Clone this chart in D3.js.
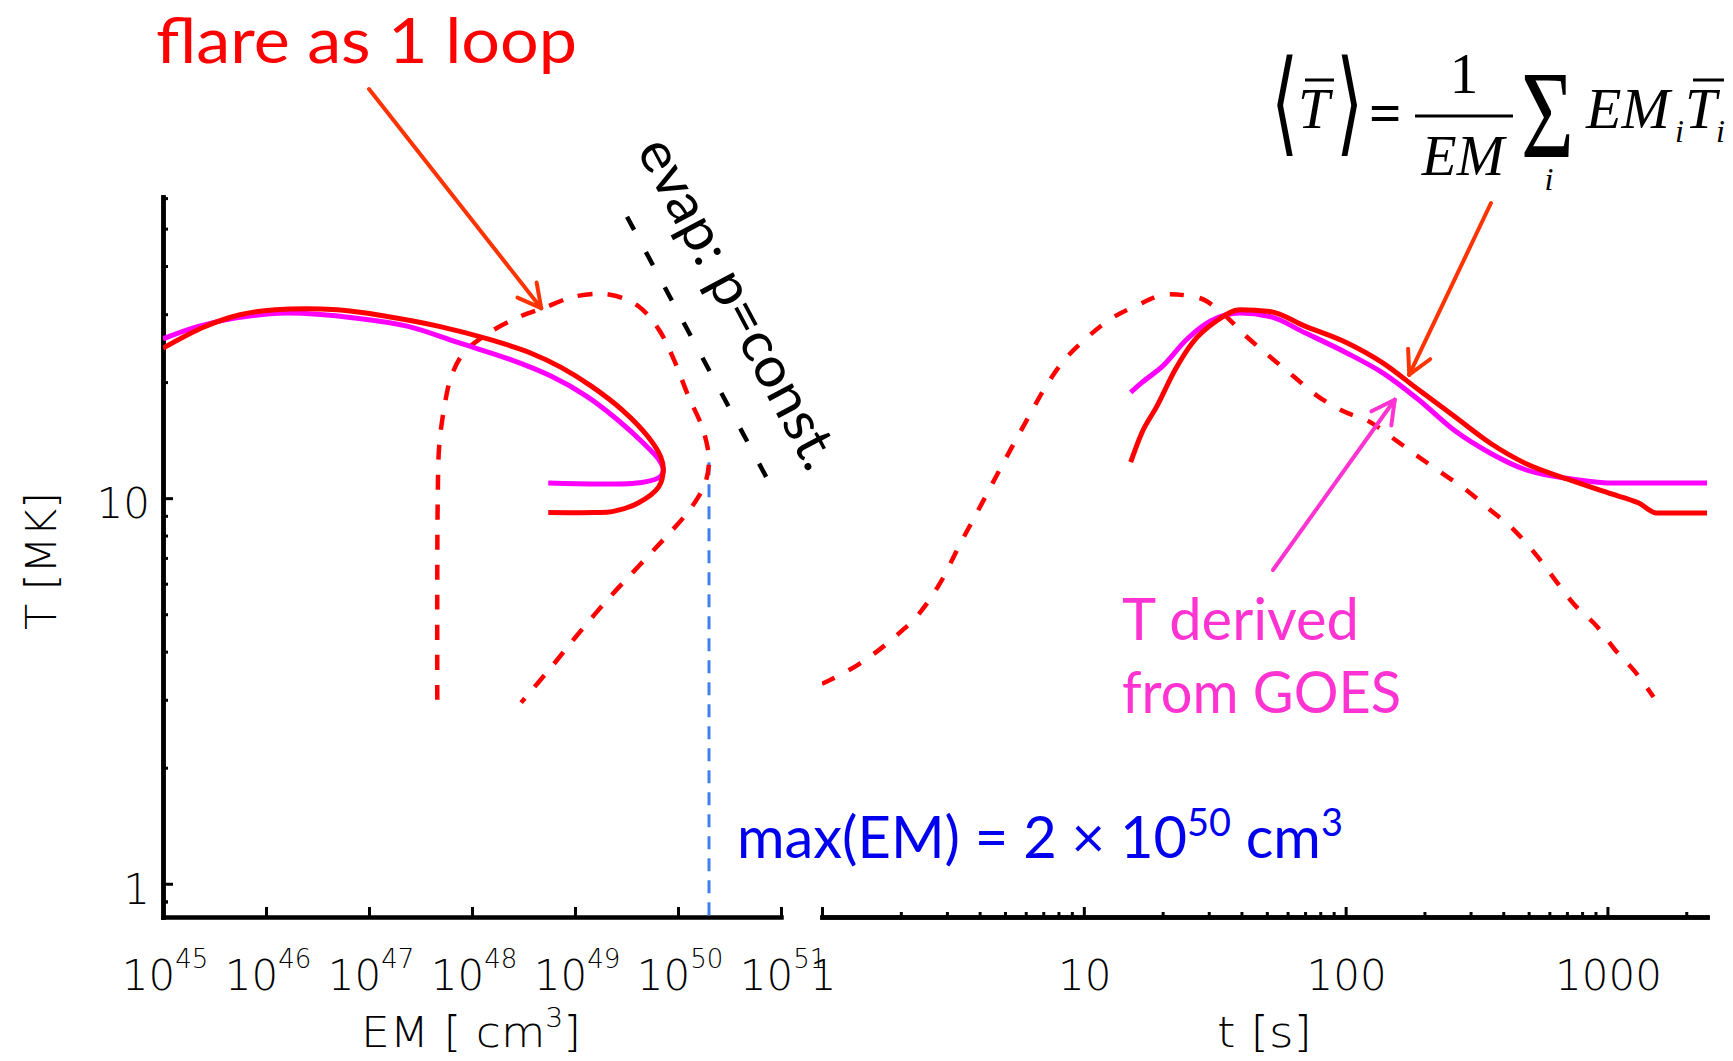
<!DOCTYPE html>
<html>
<head>
<meta charset="utf-8">
<script src="https://cdn.jsdelivr.net/npm/d3@7"></script>
<style>
  html, body { margin: 0; padding: 0; background: #fff; }
  svg { display: block; }
</style>
</head>
<body>
<svg id="chart" width="1733" height="1061"></svg>
<script>
// ---------- tick values ----------
const emDecades = [45, 46, 47, 48, 49, 50, 51];
const timeMajor = [1, 10, 100, 1000];
const tempMajor = [1, 10];

// ---------- left panel: temperature vs emission measure ----------
// single-loop model (dashed)
const loopEM = [4.6e47, 4.6e47, 4.65e47, 4.8e47, 5.4e47, 6.3e47, 8.3e47, 1.48e48, 2.95e48, 4.9e48,
                1.02e49, 2.2e49, 4.1e49, 6.5e49, 9.1e49, 1.26e50, 1.7e50, 1.93e50, 2.0e50, 1.85e50,
                1.55e50, 1.15e50, 7.2e49, 4.1e49, 2.05e49, 1.02e49, 5.9e48, 3.0e48];
const loopT  = [3.0, 6.0, 10.0, 13.6, 17.3, 20.7, 23.8, 26.9, 29.6, 31.1,
                33.4, 33.7, 31.5, 27.4, 22.9, 18.4, 15.4, 13.6, 12.4, 11.0,
                10.0, 8.96, 7.8, 6.64, 5.44, 4.37, 3.65, 2.95];
// multi-loop mean temperature (solid red)
const meanEM = [1e45, 2.5e45, 5.6e45, 1.23e46, 4.9e46, 1.5e47, 4.8e47, 1.48e48, 3.7e48, 7.4e48,
                1.45e49, 2.9e49, 5.1e49, 6.8e49, 7.2e49, 6.5e49, 4.1e49, 2.3e49, 1.5e49, 5.5e48];
const meanT  = [24.5, 27.8, 29.9, 30.8, 30.8, 29.6, 27.9, 25.8, 23.8, 21.8,
                19.5, 16.9, 14.45, 12.8, 11.85, 10.7, 9.72, 9.23, 9.18, 9.18];
// GOES-derived temperature (magenta)
const goesEM = [1e45, 2.2e45, 5e45, 1.55e46, 7.6e46, 2.4e47, 7.4e47, 2.34e48, 5.9e48, 1.29e49,
                2.57e49, 4.6e49, 6.5e49, 7.2e49, 6.8e49, 4.6e49, 5.5e48];
const goesT  = [25.9, 27.9, 29.3, 30.2, 29.3, 27.9, 25.3, 22.9, 20.7, 18.4,
                16.0, 13.9, 12.6, 11.85, 11.4, 11.0, 10.94];
// evaporation track, p = const
const evapEM = [3.2e49, 8.4e50];
const evapT  = [53.7, 10.5];
// peak emission measure
const maxEM = 2e50;
const maxEMT = [12.4, 0.82];

// ---------- right panel: temperature vs time ----------
const loopTime = [1.0, 1.39, 1.90, 2.35, 2.82, 3.38, 3.96, 4.63, 5.42, 6.17, 7.03, 8.24, 10.1, 12.5,
                  15.8, 21.1, 27.4, 33.8, 41.7, 51.3, 63.2, 78.1, 96.3, 125, 154, 190, 234, 289,
                  356, 439, 541, 631, 741, 914, 1070, 1260, 1500];
const loopTempT = [3.30, 3.72, 4.37, 5.02, 6.01, 7.64, 9.33, 11.4, 13.9, 16.3, 19.1, 22.4, 25.8, 29.0,
                   31.5, 33.8, 33.1, 30.2, 26.3, 23.3, 20.7, 18.4, 16.9, 15.7, 14.2, 12.8, 11.6, 10.5,
                   9.33, 8.28, 7.05, 6.14, 5.33, 4.64, 4.04, 3.58, 3.05];
const meanTime = [15.1, 16.6, 19.0, 22.3, 26.0, 32.1, 39.5, 51.3, 70.3, 101, 139, 190, 260, 356,
                  487, 705, 1014, 1318, 1542, 2400];
const meanTempT = [12.4, 14.7, 17.3, 21.5, 25.3, 28.8, 30.8, 30.5, 27.9, 25.3, 22.4, 19.1, 16.3, 13.9,
                   12.3, 11.2, 10.3, 9.71, 9.15, 9.15];
const goesTime = [15.1, 16.6, 20.0, 24.7, 30.5, 39.5, 51.3, 70.3, 101, 139, 190, 260, 356, 487,
                  741, 1070, 2400];
const goesTempT = [18.8, 19.9, 22.0, 25.8, 28.8, 30.2, 29.6, 26.8, 23.8, 21.1, 18.0, 15.0, 13.1, 11.85,
                   11.2, 10.94, 10.94];

// ---------- styles ----------
const AXIS_FONT = "'DejaVu Sans', 'Liberation Sans', sans-serif";
const NOTE_FONT = "Lato, 'Open Sans', sans-serif";
const MATH_FONT = "'Liberation Serif', 'DejaVu Serif', serif";
const RED = "#ff0000", MAGENTA = "#ff00ff", ARROW_RED = "#ff3300", PINK = "#ff33d2";

const svg = d3.select("#chart");

// ---------- scales ----------
const xEM = d3.scaleLog().domain([1e45, 1e51]).range([163, 781]);
const xTime = d3.scaleLog().domain([1, 2400]).range([822, 1707]);
const yT = d3.scaleLog().domain([0.82, 60.4]).range([917, 197]);

// clip regions for both panels
const defs = svg.append("defs");
defs.append("clipPath").attr("id", "clipL").append("rect")
  .attr("x", xEM.range()[0]).attr("y", yT.range()[1])
  .attr("width", xEM.range()[1] - xEM.range()[0]).attr("height", yT.range()[0] - yT.range()[1]);
defs.append("clipPath").attr("id", "clipR").append("rect")
  .attr("x", xTime.range()[0]).attr("y", yT.range()[1])
  .attr("width", xTime.range()[1] - xTime.range()[0]).attr("height", yT.range()[0] - yT.range()[1]);

const zip = (a, b) => a.map((v, i) => [v, b[i]]);
const lineEM = d3.line().x(d => xEM(d[0])).y(d => yT(d[1])).curve(d3.curveCatmullRom.alpha(0.5));
const lineTime = d3.line().x(d => xTime(d[0])).y(d => yT(d[1])).curve(d3.curveMonotoneX);
const lineStraight = d3.line().x(d => xEM(d[0])).y(d => yT(d[1]));

// ---------- axes ----------
function styleAxis(g, width) {
  g.select(".domain").attr("stroke", "#000").attr("stroke-width", width).attr("stroke-linecap", "square");
  g.selectAll(".tick line").attr("stroke", "#000").attr("stroke-width", 3);
  g.selectAll(".tick text").remove();
}
const minorsBetween = (lo, hi) => {
  const out = [];
  for (let e = Math.floor(Math.log10(lo)); e <= Math.ceil(Math.log10(hi)); e++)
    for (let m = 2; m <= 9; m++) { const v = m * Math.pow(10, e); if (v > lo && v < hi) out.push(v); }
  return out;
};

// y axis (left panel)
const yMinor = minorsBetween(0.82, 60.4).concat([0.9]).filter(v => v !== 1 && v !== 10);
svg.append("g").attr("transform", `translate(${xEM.range()[0]},0)`)
  .call(d3.axisLeft(yT).tickValues(yMinor).tickSize(-5).tickSizeOuter(0))
  .call(g => styleAxis(g, 4.5));
svg.append("g").attr("transform", `translate(${xEM.range()[0]},0)`)
  .call(d3.axisLeft(yT).tickValues(tempMajor).tickSize(-10).tickSizeOuter(0))
  .call(g => styleAxis(g, 4.5));

// x axis, emission measure
svg.append("g").attr("transform", `translate(0,${yT.range()[0]})`)
  .call(d3.axisBottom(xEM).tickValues(emDecades.map(d => Math.pow(10, d))).tickSize(-10).tickSizeOuter(0))
  .call(g => styleAxis(g, 4.5));

// x axis, time
svg.append("g").attr("transform", `translate(0,${yT.range()[0]})`)
  .call(d3.axisBottom(xTime).tickValues(minorsBetween(1, 2400)).tickSize(-5).tickSizeOuter(0))
  .call(g => styleAxis(g, 4.5));
svg.append("g").attr("transform", `translate(0,${yT.range()[0]})`)
  .call(d3.axisBottom(xTime).tickValues(timeMajor).tickSize(-10).tickSizeOuter(0))
  .call(g => styleAxis(g, 4.5));

// tick labels
const labels = svg.append("g").attr("font-family", AXIS_FONT).attr("font-weight", 200).attr("fill", "#000");
labels.selectAll("text.ylab").data(tempMajor).join("text").attr("class", "ylab")
  .attr("x", 150).attr("y", d => yT(d) + 20).attr("text-anchor", "end").attr("font-size", 42)
  .text(d => d);
labels.selectAll("text.emlab").data(emDecades).join("text").attr("class", "emlab")
  .attr("x", d => xEM(Math.pow(10, d)) + 2).attr("y", 990).attr("text-anchor", "middle").attr("font-size", 42)
  .each(function (d) {
    const t = d3.select(this);
    t.append("tspan").text("10");
    t.append("tspan").attr("dy", -22).attr("font-size", 26).text(d);
  });
labels.selectAll("text.tlab").data(timeMajor).join("text").attr("class", "tlab")
  .attr("x", d => xTime(d) + 1).attr("y", 990).attr("text-anchor", "middle").attr("font-size", 42)
  .text(d => d);

// axis titles
labels.append("text").attr("x", 361).attr("y", 1047).attr("font-size", 42)
  .attr("textLength", 220).attr("lengthAdjust", "spacingAndGlyphs")
  .call(t => {
    t.append("tspan").text("EM [ cm");
    t.append("tspan").attr("dy", -20).attr("font-size", 26).text("3");
    t.append("tspan").attr("dy", 20).text("]");
  });
labels.append("text").attr("x", 1217).attr("y", 1047).attr("font-size", 42)
  .attr("textLength", 95).attr("lengthAdjust", "spacingAndGlyphs").text("t [s]");
labels.append("text").attr("transform", "translate(56,630) rotate(-90)")
  .attr("font-size", 42).attr("textLength", 138).attr("lengthAdjust", "spacingAndGlyphs").text("T [MK]");

// ---------- curves, left panel ----------
const left = svg.append("g").attr("clip-path", "url(#clipL)").attr("fill", "none");
left.append("path").attr("d", lineStraight([[maxEM, maxEMT[0]], [maxEM, maxEMT[1]]]))
  .attr("stroke", "#3f80ee").attr("stroke-width", 3).attr("stroke-dasharray", "13,9");
left.append("path").attr("d", lineStraight(zip(evapEM, evapT)))
  .attr("stroke", "#000").attr("stroke-width", 4.5).attr("stroke-dasharray", "15,25");
left.append("path").attr("d", lineEM(zip(loopEM, loopT)))
  .attr("stroke", RED).attr("stroke-width", 4.5).attr("stroke-dasharray", "15,15");
left.append("path").attr("d", lineEM(zip(goesEM, goesT)))
  .attr("stroke", MAGENTA).attr("stroke-width", 5);
left.append("path").attr("d", lineEM(zip(meanEM, meanT)))
  .attr("stroke", RED).attr("stroke-width", 5);

// ---------- curves, right panel ----------
const right = svg.append("g").attr("clip-path", "url(#clipR)").attr("fill", "none");
right.append("path").attr("d", lineTime(zip(loopTime, loopTempT)))
  .attr("stroke", RED).attr("stroke-width", 4.5).attr("stroke-dasharray", "14,16");
right.append("path").attr("d", lineTime(zip(goesTime, goesTempT)))
  .attr("stroke", MAGENTA).attr("stroke-width", 5);
right.append("path").attr("d", lineTime(zip(meanTime, meanTempT)))
  .attr("stroke", RED).attr("stroke-width", 5);

// ---------- annotations ----------
function arrow(x1, y1, x2, y2, color, width) {
  const g = svg.append("g").attr("stroke", color).attr("stroke-width", width)
    .attr("fill", "none").attr("stroke-linecap", "round");
  g.append("line").attr("x1", x1).attr("y1", y1).attr("x2", x2).attr("y2", y2);
  const a = Math.atan2(y1 - y2, x1 - x2), L = 26, s = 28 * Math.PI / 180;
  [a - s, a + s].forEach(b =>
    g.append("line").attr("x1", x2).attr("y1", y2)
      .attr("x2", x2 + L * Math.cos(b)).attr("y2", y2 + L * Math.sin(b)));
}
arrow(369, 89, xEM(4.7e48), yT(31.1), ARROW_RED, 4);
arrow(1491, 203, xTime(175), yT(20.9), ARROW_RED, 4);
arrow(1273, 570, xTime(154), yT(18.0), PINK, 4);

const notes = svg.append("g").attr("font-family", NOTE_FONT);
function fitWidth(sel, w) {
  sel.attr("textLength", w).attr("lengthAdjust", "spacingAndGlyphs");
}
notes.append("text").attr("x", 156).attr("y", 63).attr("font-size", 62).attr("fill", RED)
  .text("flare as 1 loop").call(fitWidth, 421);
notes.append("text").attr("transform", "translate(636,150) rotate(62)").attr("font-size", 56)
  .attr("fill", "#000").text("evap: p=const.").call(fitWidth, 367);
notes.append("text").attr("x", 1122).attr("y", 640).attr("font-size", 58).attr("fill", PINK)
  .text("T derived").call(fitWidth, 237);
notes.append("text").attr("x", 1122).attr("y", 713).attr("font-size", 58).attr("fill", PINK)
  .text("from GOES").call(fitWidth, 279);

// peak emission measure label, scaled horizontally to its span
const maxLabel = notes.append("text").attr("x", 0).attr("y", 0).attr("font-size", 58).attr("fill", "#0000ee");
maxLabel.append("tspan").text("max(EM) = 2 × 10");
maxLabel.append("tspan").attr("dy", -22).attr("font-size", 38).text("50");
maxLabel.append("tspan").attr("dy", 22).text(" cm");
maxLabel.append("tspan").attr("dy", -22).attr("font-size", 38).text("3");
{
  const bb = maxLabel.node().getBBox();
  const k = 606 / bb.width;
  maxLabel.attr("transform", `translate(${737 - bb.x * k},858) scale(${k},1)`);
}

// ---------- formula ----------
const f = svg.append("g").attr("font-family", MATH_FONT).attr("fill", "#000");
f.append("text").attr("transform", "translate(1271,141) scale(1,1.63)").attr("font-size", 70)
  .attr("font-family", "'DejaVu Sans', serif").attr("font-weight", 200).text("⟨");
f.append("text").attr("x", 1298).attr("y", 128).attr("font-size", 57).attr("font-style", "italic").text("T");
f.append("text").attr("transform", "translate(1336,141) scale(1,1.63)").attr("font-size", 70)
  .attr("font-family", "'DejaVu Sans', serif").attr("font-weight", 200).text("⟩");
f.append("text").attr("x", 1369).attr("y", 132).attr("font-size", 57).attr("font-weight", 700).text("=");
f.append("text").attr("x", 1464).attr("y", 93).attr("font-size", 57).attr("text-anchor", "middle").text("1");
f.append("text").attr("x", 1463).attr("y", 175).attr("font-size", 57).attr("font-style", "italic")
  .attr("text-anchor", "middle").text("EM");
f.append("text").attr("transform", "translate(1521,157) scale(0.72,1)").attr("font-size", 126).text("Σ");
f.append("text").attr("x", 1549).attr("y", 190).attr("font-size", 32).attr("font-style", "italic")
  .attr("text-anchor", "middle").text("i");
f.append("text").attr("x", 1586).attr("y", 128).attr("font-size", 58).attr("font-style", "italic").text("EM");
f.append("text").attr("x", 1675).attr("y", 142).attr("font-size", 32).attr("font-style", "italic").text("i");
f.append("text").attr("x", 1685).attr("y", 128).attr("font-size", 57).attr("font-style", "italic").text("T");
f.append("text").attr("x", 1716).attr("y", 142).attr("font-size", 32).attr("font-style", "italic").text("i");
const fl = f.append("g").attr("stroke", "#000").attr("stroke-width", 3);
fl.append("line").attr("x1", 1415).attr("x2", 1513).attr("y1", 116).attr("y2", 116);
fl.append("line").attr("x1", 1305).attr("x2", 1334).attr("y1", 80).attr("y2", 80);
fl.append("line").attr("x1", 1693).attr("x2", 1724).attr("y1", 80).attr("y2", 80);
</script>
</body>
</html>
